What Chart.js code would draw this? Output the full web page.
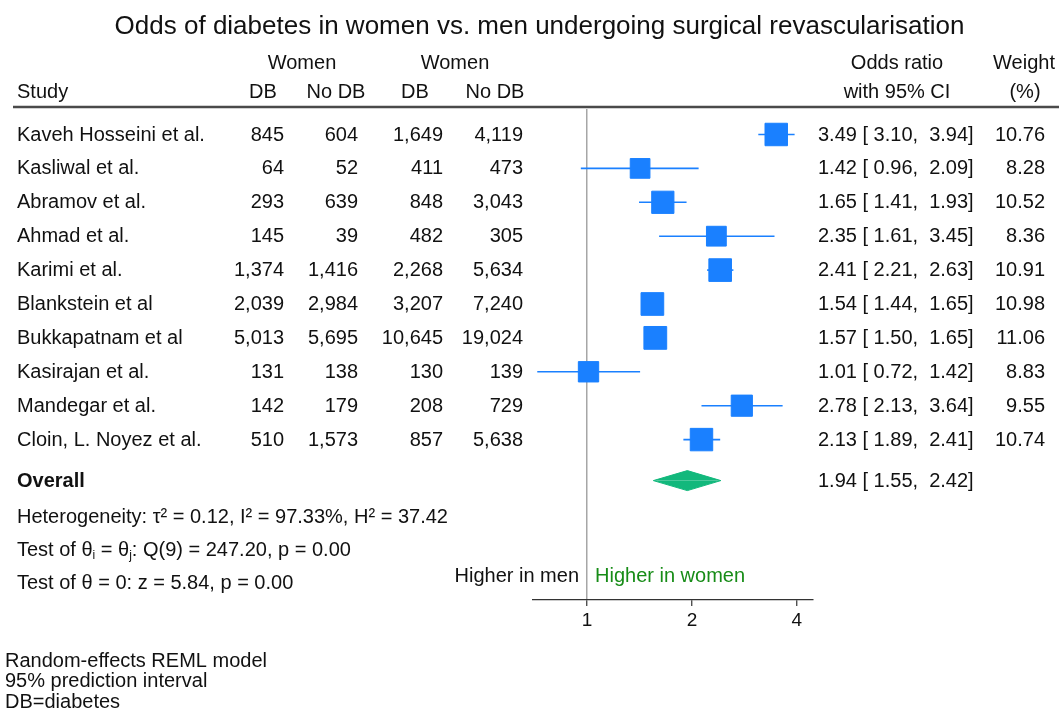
<!DOCTYPE html>
<html>
<head>
<meta charset="utf-8">
<title>Odds of diabetes in women vs. men undergoing surgical revascularisation</title>
<script src="https://cdn.jsdelivr.net/npm/chart.js@4.4.1/dist/chart.umd.min.js"></script>
<style>
  html, body { margin: 0; padding: 0; background: #ffffff; }
  #wrap { width: 1059px; height: 709px; }
</style>
</head>
<body>
<div id="wrap"><canvas id="forest" width="1059" height="709"></canvas></div>
<script>
// ---- study data ----
const studies = [
  'Kaveh Hosseini et al.', 'Kasliwal et al.', 'Abramov et al.', 'Ahmad et al.',
  'Karimi et al.', 'Blankstein et al', 'Bukkapatnam et al', 'Kasirajan et al.',
  'Mandegar et al.', 'Cloin, L. Noyez et al.'
];
const womenDB    = [845, 64, 293, 145, 1374, 2039, 5013, 131, 142, 510];
const womenNoDB  = [604, 52, 639, 39, 1416, 2984, 5695, 138, 179, 1573];
const group2DB   = [1649, 411, 848, 482, 2268, 3207, 10645, 130, 208, 857];
const group2NoDB = [4119, 473, 3043, 305, 5634, 7240, 19024, 139, 729, 5638];
const oddsRatio  = [3.49, 1.42, 1.65, 2.35, 2.41, 1.54, 1.57, 1.01, 2.78, 2.13];
const ciLow      = [3.10, 0.96, 1.41, 1.61, 2.21, 1.44, 1.50, 0.72, 2.13, 1.89];
const ciHigh     = [3.94, 2.09, 1.93, 3.45, 2.63, 1.65, 1.65, 1.42, 3.64, 2.41];
const weights    = [10.76, 8.28, 10.52, 8.36, 10.91, 10.98, 11.06, 8.83, 9.55, 10.74];

// pooled estimate
const overallOR  = 1.94;
const overallLow = 1.55;
const overallHigh = 2.42;

// heterogeneity / test statistics
const tau2 = '0.12', i2 = '97.33%', h2 = '37.42';
const qDf = 9, qStat = '247.20', qP = '0.00';
const zStat = '5.84', zP = '0.00';

const xTicks = [1, 2, 4];

// ---- layout constants ----
const FONT = '"Liberation Sans", Arial, Helvetica, sans-serif';
const INK = '#111111';
const BLUE = '#1a80ff';
const DIAMOND = '#12b87c';
const GREEN_TXT = '#178c17';
const OVERALL_ROW = 10.21;
const DIAMOND_HALF = 0.295;   // half height of the pooled diamond, in row units

const rowIdx = studies.map((_, i) => i);
const fmtN = v => v.toLocaleString('en-US');
const ciText = (o, l, h) => `${o.toFixed(2)} [ ${l.toFixed(2)},  ${h.toFixed(2)}]`;

// ---- datasets ----
const ciSets = rowIdx.map(i => ({
  type: 'line',
  data: [{ x: ciLow[i], y: i }, { x: ciHigh[i], y: i }],
  borderColor: BLUE,
  borderWidth: 1.6,
  pointRadius: 0,
  fill: false,
  clip: false,
  order: 2
}));

const markerSet = {
  type: 'scatter',
  data: rowIdx.map(i => ({ x: oddsRatio[i], y: i })),
  pointStyle: 'rect',
  pointRadius: weights.map(w => 6.85 * Math.sqrt(w) / Math.SQRT2),
  backgroundColor: BLUE,
  borderColor: BLUE,
  borderWidth: 1,
  order: 0
};

const diamondTop = {
  type: 'line',
  data: [{ x: overallLow, y: OVERALL_ROW }, { x: overallOR, y: OVERALL_ROW - DIAMOND_HALF }, { x: overallHigh, y: OVERALL_ROW }],
  borderColor: DIAMOND, borderWidth: 1, pointRadius: 0,
  backgroundColor: DIAMOND, fill: { value: OVERALL_ROW }, order: 1
};
const diamondBottom = {
  type: 'line',
  data: [{ x: overallLow, y: OVERALL_ROW }, { x: overallOR, y: OVERALL_ROW + DIAMOND_HALF }, { x: overallHigh, y: OVERALL_ROW }],
  borderColor: DIAMOND, borderWidth: 1, pointRadius: 0,
  backgroundColor: DIAMOND, fill: { value: OVERALL_ROW }, order: 1
};

// ---- text drawing helpers ----
function put(ctx, s, x, y, align, opts = {}) {
  ctx.save();
  ctx.font = `${opts.bold ? 'bold ' : ''}${opts.size || 20}px ${FONT}`;
  ctx.fillStyle = opts.color || INK;
  ctx.textAlign = align;
  ctx.textBaseline = 'middle';
  ctx.fillText(s, x, y);
  ctx.restore();
}
// runs of text, with optional subscript pieces
function putRuns(ctx, runs, x, y) {
  ctx.save();
  ctx.fillStyle = INK;
  ctx.textAlign = 'left';
  ctx.textBaseline = 'middle';
  let cx = x;
  for (const r of runs) {
    ctx.font = `${r.sub ? 12 : 20}px ${FONT}`;
    ctx.fillText(r.t, cx, r.sub ? y + 6 : y);
    cx += ctx.measureText(r.t).width;
  }
  ctx.restore();
}

const tablePlugin = {
  id: 'forestTable',
  beforeDraw(chart) {
    const ctx = chart.ctx;
    // header rule
    ctx.save();
    ctx.strokeStyle = '#4a4a4a';
    ctx.lineWidth = 2.6;
    ctx.beginPath();
    ctx.moveTo(13, 107);
    ctx.lineTo(1059, 107);
    ctx.stroke();
    ctx.restore();
  },
  afterDraw(chart) {
    const ctx = chart.ctx;
    const yS = chart.scales.y;

    // title
    put(ctx, 'Odds of diabetes in women vs. men undergoing surgical revascularisation', 539.5, 27, 'center', { size: 26 });

    // column headers
    put(ctx, 'Women', 302, 63, 'center');
    put(ctx, 'Women', 455, 63, 'center');
    put(ctx, 'Study', 17, 92, 'left');
    put(ctx, 'DB', 263, 92, 'center');
    put(ctx, 'No DB', 336, 92, 'center');
    put(ctx, 'DB', 415, 92, 'center');
    put(ctx, 'No DB', 495, 92, 'center');
    put(ctx, 'Odds ratio', 897, 63, 'center');
    put(ctx, 'with 95% CI', 897, 92, 'center');
    put(ctx, 'Weight', 1024, 63, 'center');
    put(ctx, '(%)', 1025, 92, 'center');

    // study rows
    rowIdx.forEach(i => {
      const y = yS.getPixelForValue(i) + 0.5;
      put(ctx, studies[i], 17, y, 'left');
      put(ctx, fmtN(womenDB[i]), 284, y, 'right');
      put(ctx, fmtN(womenNoDB[i]), 358, y, 'right');
      put(ctx, fmtN(group2DB[i]), 443, y, 'right');
      put(ctx, fmtN(group2NoDB[i]), 523, y, 'right');
      put(ctx, ciText(oddsRatio[i], ciLow[i], ciHigh[i]), 818, y, 'left');
      put(ctx, weights[i].toFixed(2), 1045, y, 'right');
    });

    // pooled row
    const yo = yS.getPixelForValue(OVERALL_ROW) + 0.5;
    put(ctx, 'Overall', 17, yo, 'left', { bold: true });
    put(ctx, ciText(overallOR, overallLow, overallHigh), 818, yo, 'left');

    // statistics
    put(ctx, `Heterogeneity: \u03C4\u00B2 = ${tau2}, I\u00B2 = ${i2}, H\u00B2 = ${h2}`, 17, 517, 'left');
    putRuns(ctx, [
      { t: 'Test of \u03B8' }, { t: 'i', sub: true }, { t: ' = \u03B8' }, { t: 'j', sub: true },
      { t: `: Q(${qDf}) = ${qStat}, p = ${qP}` }
    ], 17, 550);
    put(ctx, `Test of \u03B8 = 0: z = ${zStat}, p = ${zP}`, 17, 583, 'left');

    // direction labels either side of the null line
    const x1 = chart.scales.x.getPixelForValue(1);
    put(ctx, 'Higher in men', x1 - 8, 576, 'right');
    put(ctx, 'Higher in women', x1 + 8, 576, 'left', { color: GREEN_TXT });

    // notes
    put(ctx, 'Random-effects REML model', 5, 661, 'left');
    put(ctx, '95% prediction interval', 5, 681.5, 'left');
    put(ctx, 'DB=diabetes', 5, 702, 'left');
  }
};

new Chart(document.getElementById('forest'), {
  data: { datasets: [markerSet, diamondTop, diamondBottom, ...ciSets] },
  options: {
    responsive: false,
    animation: false,
    events: [],
    layout: { padding: { left: 533, right: 246.3, top: 109, bottom: 69 } },
    plugins: {
      legend: { display: false },
      tooltip: { enabled: false },
      title: { display: false }
    },
    scales: {
      x: {
        type: 'logarithmic',
        position: 'bottom',
        min: 0.72,
        max: 4.44,
        afterBuildTicks: s => { s.ticks = xTicks.map(v => ({ value: v })); },
        afterFit: s => { s.height = 40; },
        ticks: {
          autoSkip: false,
          maxRotation: 0,
          padding: 3,
          color: INK,
          font: { family: FONT, size: 19 },
          callback: v => String(v)
        },
        grid: {
          drawOnChartArea: true,
          drawTicks: true,
          tickLength: 6,
          lineWidth: 1.5,
          tickWidth: 1.2,
          tickColor: '#333333',
          color: c => (c.tick && c.tick.value === 1) ? '#a6a6a6' : 'rgba(0,0,0,0)'
        },
        border: { display: true, color: '#333333', width: 1.2 }
      },
      y: {
        type: 'linear',
        display: false,
        reverse: true,
        min: -0.752,
        max: 13.732
      }
    }
  },
  plugins: [tablePlugin]
});
</script>
</body>
</html>
